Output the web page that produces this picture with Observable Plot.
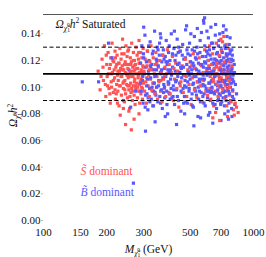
<!DOCTYPE html>
<html><head>
<meta charset="utf-8">
<script src="https://cdn.jsdelivr.net/npm/d3@7"></script>
<script src="https://cdn.jsdelivr.net/npm/@observablehq/plot@0.6"></script>
<style>
body{margin:0;background:#fff}
</style>
</head><body><div id="chart"></div>
<script>
// [mass GeV, Omega h^2]
const sDominant = [
[182,0.112],[186,0.098],[190,0.121],[193,0.105],[195,0.131],[198,0.093],[200,0.117],[201,0.108],[203,0.126],[205,0.099],[206,0.114],[208,0.088],[209,0.122],[210,0.104],[212,0.133],[213,0.111],[215,0.096],[216,0.119],[218,0.107],[219,0.127],[220,0.091],[221,0.115],[223,0.102],[224,0.124],[225,0.109],[226,0.097],[228,0.118],[229,0.086],[230,0.112],[231,0.129],[232,0.101],[234,0.121],[235,0.094],[236,0.108],[237,0.116],[238,0.136],[240,0.099],[241,0.113],[242,0.125],[243,0.089],[244,0.105],[245,0.119],[246,0.095],[247,0.131],[248,0.110],[249,0.102],[250,0.123],[251,0.092],[252,0.114],[253,0.107],[254,0.128],[255,0.098],[256,0.117],[257,0.084],[258,0.111],[259,0.122],[260,0.103],[261,0.096],[262,0.119],[263,0.133],[264,0.108],[265,0.090],[266,0.115],[267,0.101],[268,0.126],[269,0.112],[270,0.094],[271,0.120],[272,0.106],[273,0.087],[274,0.117],[275,0.099],[276,0.130],[277,0.110],[278,0.103],[279,0.124],[280,0.092],[281,0.114],[282,0.107],[283,0.121],[284,0.097],[285,0.135],[286,0.111],[287,0.088],[288,0.118],[289,0.104],[290,0.126],[291,0.095],[292,0.113],[293,0.100],[294,0.122],[295,0.108],[296,0.091],[297,0.116],[298,0.129],[299,0.103],
[232,0.079],[246,0.072],[262,0.068],[255,0.082],[270,0.076],[240,0.084],[285,0.080],[225,0.088],
[204,0.110],[211,0.100],[217,0.113],[222,0.095],[227,0.105],[233,0.114],[239,0.103],[244,0.098],[250,0.109],[256,0.101],[261,0.112],[266,0.097],[272,0.113],[277,0.100],[283,0.109],[288,0.097],[294,0.111],[214,0.120],[229,0.118],[243,0.117],[258,0.093],[271,0.104],[286,0.102],[197,0.102],[207,0.095],
[188,0.108],[192,0.115],[199,0.124],[202,0.101],[208,0.117],[211,0.110],[215,0.105],[219,0.098],[223,0.117],[226,0.112],[230,0.101],[234,0.108],[238,0.113],[241,0.104],[245,0.111],[249,0.117],[252,0.101],[256,0.108],[260,0.117],[263,0.099],[267,0.108],[270,0.116],[274,0.101],[278,0.114],[281,0.100],[285,0.118],[289,0.111],[292,0.106],[296,0.099],[299,0.115],[236,0.125],[252,0.127],[268,0.120],[284,0.126],[220,0.122],
[301,0.112],[303,0.097],[305,0.121],[307,0.104],[309,0.088],[311,0.116],[313,0.127],[315,0.101],[317,0.109],[319,0.093],[321,0.119],[323,0.106],[325,0.131],[327,0.098],[329,0.113],[331,0.086],[333,0.122],[335,0.103],[337,0.110],[339,0.095],[341,0.117],[343,0.126],[345,0.100],[347,0.108],[349,0.091],[352,0.115],[355,0.104],[358,0.120],[361,0.097],[364,0.112],[367,0.089],[370,0.124],[373,0.106],[376,0.099],[379,0.115],[382,0.093],[385,0.110],[389,0.128],[393,0.102],[397,0.117],
[310,0.107],[320,0.113],[330,0.097],[346,0.118],[362,0.105],[378,0.109],[395,0.096],[418,0.114],[448,0.101],[478,0.108],[508,0.116],[540,0.104],[575,0.111],
[401,0.095],[406,0.111],[411,0.123],[416,0.090],[421,0.106],[426,0.118],[431,0.099],[436,0.112],[441,0.085],[446,0.127],[451,0.104],[457,0.116],[463,0.096],[469,0.109],[475,0.121],[481,0.093],[487,0.113],[493,0.102],[499,0.119],[505,0.087],[511,0.107],[517,0.125],[523,0.098],[530,0.114],[537,0.092],[544,0.110],[551,0.122],[558,0.101],[565,0.116],[572,0.089],[579,0.105],[586,0.128],[593,0.097],
[600,0.112],[605,0.094],[610,0.120],[614,0.103],[618,0.131],[622,0.108],[626,0.091],[630,0.117],[634,0.099],[638,0.125],[642,0.106],[646,0.086],[650,0.114],[654,0.121],[658,0.097],[662,0.110],[666,0.133],[670,0.102],[674,0.118],[678,0.093],[682,0.109],[686,0.124],[690,0.100],[694,0.115],[698,0.088],[702,0.107],[706,0.127],[710,0.096],[714,0.113],[718,0.104],[722,0.138],[726,0.119],[730,0.092],[734,0.110],[738,0.101],[742,0.123],[746,0.086],[750,0.115],[754,0.098],[758,0.108],[762,0.129],[766,0.094],[770,0.112],[774,0.103],[778,0.120],[782,0.089],[786,0.106],[790,0.116],[796,0.097],[802,0.083],[810,0.079],[818,0.088],[830,0.085],[845,0.081],[700,0.136],[712,0.134],[640,0.077],[690,0.075],[660,0.081],[752,0.078],[620,0.099],[633,0.112],[647,0.104],[672,0.097],[685,0.113],[697,0.101],[720,0.111],[744,0.107],[768,0.100],[776,0.113],
[612,0.116],[628,0.104],[652,0.108],[668,0.115],[688,0.106],[708,0.117],[728,0.105],[748,0.112],[764,0.105],[784,0.113],[740,0.132],[760,0.119],[716,0.098]
];
const bDominant = [
[290,0.118],[292,0.097],[294,0.131],[296,0.105],[298,0.088],[300,0.122],[302,0.110],[304,0.139],[306,0.094],[308,0.115],[310,0.101],[312,0.127],[314,0.083],[316,0.112],[318,0.120],[320,0.099],[322,0.134],[324,0.107],[326,0.091],[328,0.117],[330,0.125],[332,0.103],[334,0.086],[336,0.113],[338,0.142],[340,0.096],[342,0.109],[344,0.121],[346,0.100],[348,0.130],[350,0.089],[352,0.116],[354,0.105],[356,0.124],[358,0.093],[360,0.111],[362,0.137],[364,0.098],[366,0.119],[368,0.084],[370,0.107],[372,0.128],[374,0.102],[376,0.114],[378,0.092],[380,0.123],[382,0.108],[384,0.135],[386,0.097],[388,0.117],[390,0.080],[392,0.104],[394,0.126],[396,0.111],[398,0.095],
[400,0.120],[403,0.106],[406,0.140],[409,0.092],[412,0.115],[415,0.101],[418,0.129],[421,0.087],[424,0.112],[427,0.124],[430,0.098],[433,0.136],[436,0.108],[439,0.090],[442,0.118],[445,0.103],[448,0.127],[451,0.082],[454,0.114],[457,0.096],[460,0.132],[463,0.109],[466,0.121],[469,0.093],[472,0.105],[475,0.143],[478,0.100],[481,0.117],[484,0.088],[487,0.125],[490,0.111],[493,0.097],[496,0.133],[499,0.106],[502,0.119],[505,0.091],[508,0.113],[511,0.128],[514,0.102],[517,0.085],[520,0.116],[523,0.138],[526,0.099],[529,0.122],[532,0.108],[535,0.094],[538,0.130],[541,0.104],[544,0.078],[547,0.118],
[550,0.112],[553,0.097],[556,0.126],[559,0.089],[562,0.110],[565,0.141],[568,0.101],[571,0.123],[574,0.093],[577,0.115],[580,0.148],[583,0.106],[586,0.131],[589,0.086],[592,0.118],[595,0.099],[598,0.127],[601,0.109],[604,0.092],[607,0.120],[610,0.137],[613,0.103],[616,0.114],[619,0.081],[622,0.124],[625,0.096],[628,0.111],[631,0.133],[634,0.100],[637,0.117],[640,0.088],[643,0.106],[646,0.129],[649,0.113],[652,0.095],[655,0.121],[658,0.139],[661,0.102],[664,0.116],[667,0.084],[670,0.110],[673,0.126],[676,0.098],[679,0.119],[682,0.091],[685,0.135],[688,0.107],[691,0.123],[694,0.094],[697,0.113],
[700,0.101],[703,0.128],[706,0.089],[709,0.117],[712,0.105],[715,0.141],[718,0.096],[721,0.122],[724,0.110],[727,0.086],[730,0.131],[733,0.102],[736,0.118],[739,0.093],[742,0.125],[745,0.108],[748,0.138],[751,0.099],[754,0.115],[757,0.082],[760,0.121],[763,0.106],[766,0.132],[769,0.095],[772,0.112],[775,0.127],[778,0.090],[781,0.119],[784,0.103],[787,0.084],[790,0.114],[793,0.124],[796,0.098],[800,0.109],[805,0.091],[810,0.117],[815,0.087],[820,0.102],[830,0.095],
[153,0.104],[183,0.104],[204,0.133],[212,0.122],[240,0.090],[260,0.085],[268,0.028],[306,0.067],[300,0.145],[578,0.150],[585,0.152],[340,0.074],[430,0.072],[520,0.071],[640,0.073],[700,0.075],[760,0.076],[480,0.146],[660,0.147],[720,0.146],[255,0.113],[275,0.097],
[297,0.108],[311,0.095],[323,0.116],[337,0.103],[351,0.128],[363,0.110],[377,0.100],[389,0.119],[402,0.113],[414,0.093],[426,0.104],[438,0.126],[450,0.115],[462,0.099],[474,0.122],[486,0.104],[498,0.115],[510,0.095],[522,0.108],[534,0.121],[546,0.100],[558,0.117],[570,0.106],[582,0.095],[594,0.111],[606,0.125],[618,0.103],[630,0.097],[642,0.118],[654,0.108],[666,0.125],[678,0.104],[690,0.114],[702,0.120],[714,0.099],[726,0.113],[738,0.105],[750,0.124],[762,0.097],[774,0.108],[786,0.121],[798,0.111],[335,0.097],[395,0.103],[455,0.107],[515,0.118],[575,0.102],[635,0.110],[695,0.104],[755,0.110],[315,0.092],[345,0.113],[375,0.121],[405,0.099],[435,0.117],[465,0.088],[495,0.109],[525,0.114],[555,0.104],[585,0.119],[615,0.097],[645,0.112],[675,0.090],[705,0.112],[735,0.097],[765,0.116],[795,0.106],
[291,0.103],[299,0.125],[305,0.085],[309,0.119],[313,0.106],[317,0.131],[321,0.089],[325,0.114],[329,0.100],[333,0.127],[339,0.108],[343,0.094],[347,0.120],[353,0.101],[357,0.133],[361,0.088],[365,0.113],[369,0.124],[373,0.096],[379,0.109],[383,0.119],[387,0.087],[391,0.113],[397,0.131],[401,0.091],[407,0.109],[411,0.125],[417,0.098],[423,0.120],[429,0.105],[434,0.093],[440,0.130],[446,0.111],[452,0.097],[458,0.124],[464,0.115],[470,0.101],[476,0.089],[482,0.128],[488,0.112],[494,0.099],[500,0.124],[506,0.110],[512,0.086],[518,0.103],[524,0.127],[530,0.097],[536,0.113],[542,0.125],[548,0.091],[552,0.106],[557,0.135],[563,0.096],[569,0.117],[576,0.109],[581,0.088],[587,0.101],[593,0.123],[599,0.114],[605,0.097],[611,0.111],[617,0.128],[623,0.090],[629,0.121],[633,0.105],[639,0.133],[644,0.096],[650,0.118],[656,0.087],[662,0.109],[668,0.120],[674,0.101],[680,0.131],[686,0.095],[692,0.118],[698,0.087],[704,0.110],[710,0.126],[716,0.092],[722,0.116],[728,0.104],[734,0.129],[740,0.090],[746,0.120],[752,0.102],[758,0.113],[764,0.088],[770,0.125],[776,0.100],[782,0.112],[788,0.128],[794,0.093],[799,0.120],[804,0.104],[812,0.111],[360,0.140],[420,0.142],[540,0.144],[600,0.142],[690,0.140],[740,0.143],[380,0.078],[470,0.080],[560,0.077],[610,0.079],[730,0.080],[790,0.078],[503,0.140],[627,0.145],[774,0.137]
];
const xTicks = [100, 150, 200, 300, 500, 700, 1000];
const yTicks = [0, 0.02, 0.04, 0.06, 0.08, 0.10, 0.12, 0.14];
const relicCentral = [0.11];
const relicBand = [0.09, 0.13];
const saturated = [0.1545];
const seriesNames = ["S", "B"];
const seriesColors = ["#ff5252", "#5858ff"];
const FONT = "'Liberation Serif', 'Times New Roman', Tinos, 'DejaVu Serif', serif";

// interleave the two series so that neither is drawn wholly on top
const points = [];
const sortedS = [...sDominant].sort((a, b) => a[0] - b[0]);
const sortedB = [...bDominant].sort((a, b) => a[0] - b[0]);
const all = [...sortedS.map(d => ({m: d[0], o: d[1], type: "S"})), ...sortedB.map(d => ({m: d[0], o: d[1], type: "B"}))];
all.sort((a, b) => a.m - b.m || (a.type < b.type ? -1 : 1));
// draw in an order mixing mass ranges: even-index first then odd
for (let k = 0; k < 2; k++) for (let i = k; i < all.length; i += 2) points.push(all[i]);

const plot = Plot.plot({
  width: 266, height: 257,
  marginLeft: 43, marginRight: 13, marginTop: 14, marginBottom: 37,
  style: {fontSize: "10.5px", background: "#fff", color: "#111"},
  x: {type: "log", domain: [100, 1000], label: null},
  y: {domain: [0, saturated[0]], label: null},
  color: {domain: seriesNames, range: seriesColors, legend: false},
  marks: [
    Plot.axisX({ticks: xTicks, tickFormat: d => String(d), tickSize: 0, tickPadding: 8, label: null, fontSize: 11}),
    Plot.axisY({ticks: yTicks, tickFormat: d3.format(".2f"), tickSize: 2, tickPadding: 1, stroke: "#bbb", label: null, fontSize: 11}),
    Plot.dot(points, {x: "m", y: "o", symbol: "square", r: 1.8, fill: "type", stroke: null}),
    Plot.ruleY(relicCentral, {stroke: "#000", strokeWidth: 1.6}),
    Plot.ruleY(relicBand, {stroke: "#000", strokeWidth: 1, strokeDasharray: "4,2.5"}),
    Plot.ruleY(saturated, {stroke: "#555", strokeWidth: 1}),
    Plot.text(["KEY_SAT"], {frameAnchor: "top-left", dx: 12, dy: 5, textAnchor: "start", fontSize: 11.5}),
    Plot.text(["KEY_S"], {frameAnchor: "top-left", dx: 37, dy: 152, textAnchor: "start", fill: seriesColors[0], fontSize: 11.5}),
    Plot.text(["KEY_B"], {frameAnchor: "top-left", dx: 37, dy: 173, textAnchor: "start", fill: seriesColors[1], fontSize: 11.5}),
    Plot.text(["KEY_X"], {frameAnchor: "bottom", dy: 32, textAnchor: "middle", fontSize: 11.5}),
    Plot.text(["KEY_Y"], {frameAnchor: "left", dx: -30, dy: -2, rotate: -90, textAnchor: "middle", fontSize: 11.5})
  ]
});

const omegaParts = [
  {t: "Ω", i: 1},
  {t: "χ̃", i: 1, s: 7.5, dy: 3},
  {t: "1", s: 5.5, dy: 1.5},
  {t: "0", s: 5.5, dx: -3, dy: -5},
  {t: "h", i: 1, dy: 0.5},
  {t: "2", s: 7.5, dy: -4.5},
];
const rich = {
  KEY_SAT: [...omegaParts, {t: " Saturated", dy: 4.5}],
  KEY_Y: omegaParts,
  KEY_S: [{t: "S̃", i: 1}, {t: " dominant"}],
  KEY_B: [{t: "B̃", i: 1}, {t: " dominant"}],
  KEY_X: [{t: "M", i: 1}, {t: "χ̃", i: 1, s: 7.5, dy: 3}, {t: "1", s: 5.5, dy: 1.5}, {t: "0", s: 5.5, dx: -3, dy: -5}, {t: " (GeV)", dy: 0.5}]
};
const root = d3.select(plot);
root.attr("font-family", FONT).style("font-family", FONT);
root.selectAll("g").attr("font-family", FONT).style("font-family", FONT);
root.selectAll("text").each(function() {
  const el = d3.select(this);
  el.attr("font-family", FONT).style("font-family", FONT);
  const key = this.textContent;
  if (!rich[key]) return;
  el.text("");
  for (const p of rich[key]) {
    const ts = el.append("tspan").text(p.t);
    if (p.i) ts.attr("font-style", "italic");
    if (p.s) ts.attr("font-size", p.s);
    if (p.dy) ts.attr("dy", p.dy);
    if (p.dx) ts.attr("dx", p.dx);
  }
});
document.getElementById("chart").appendChild(plot);
</script>
</body></html>
